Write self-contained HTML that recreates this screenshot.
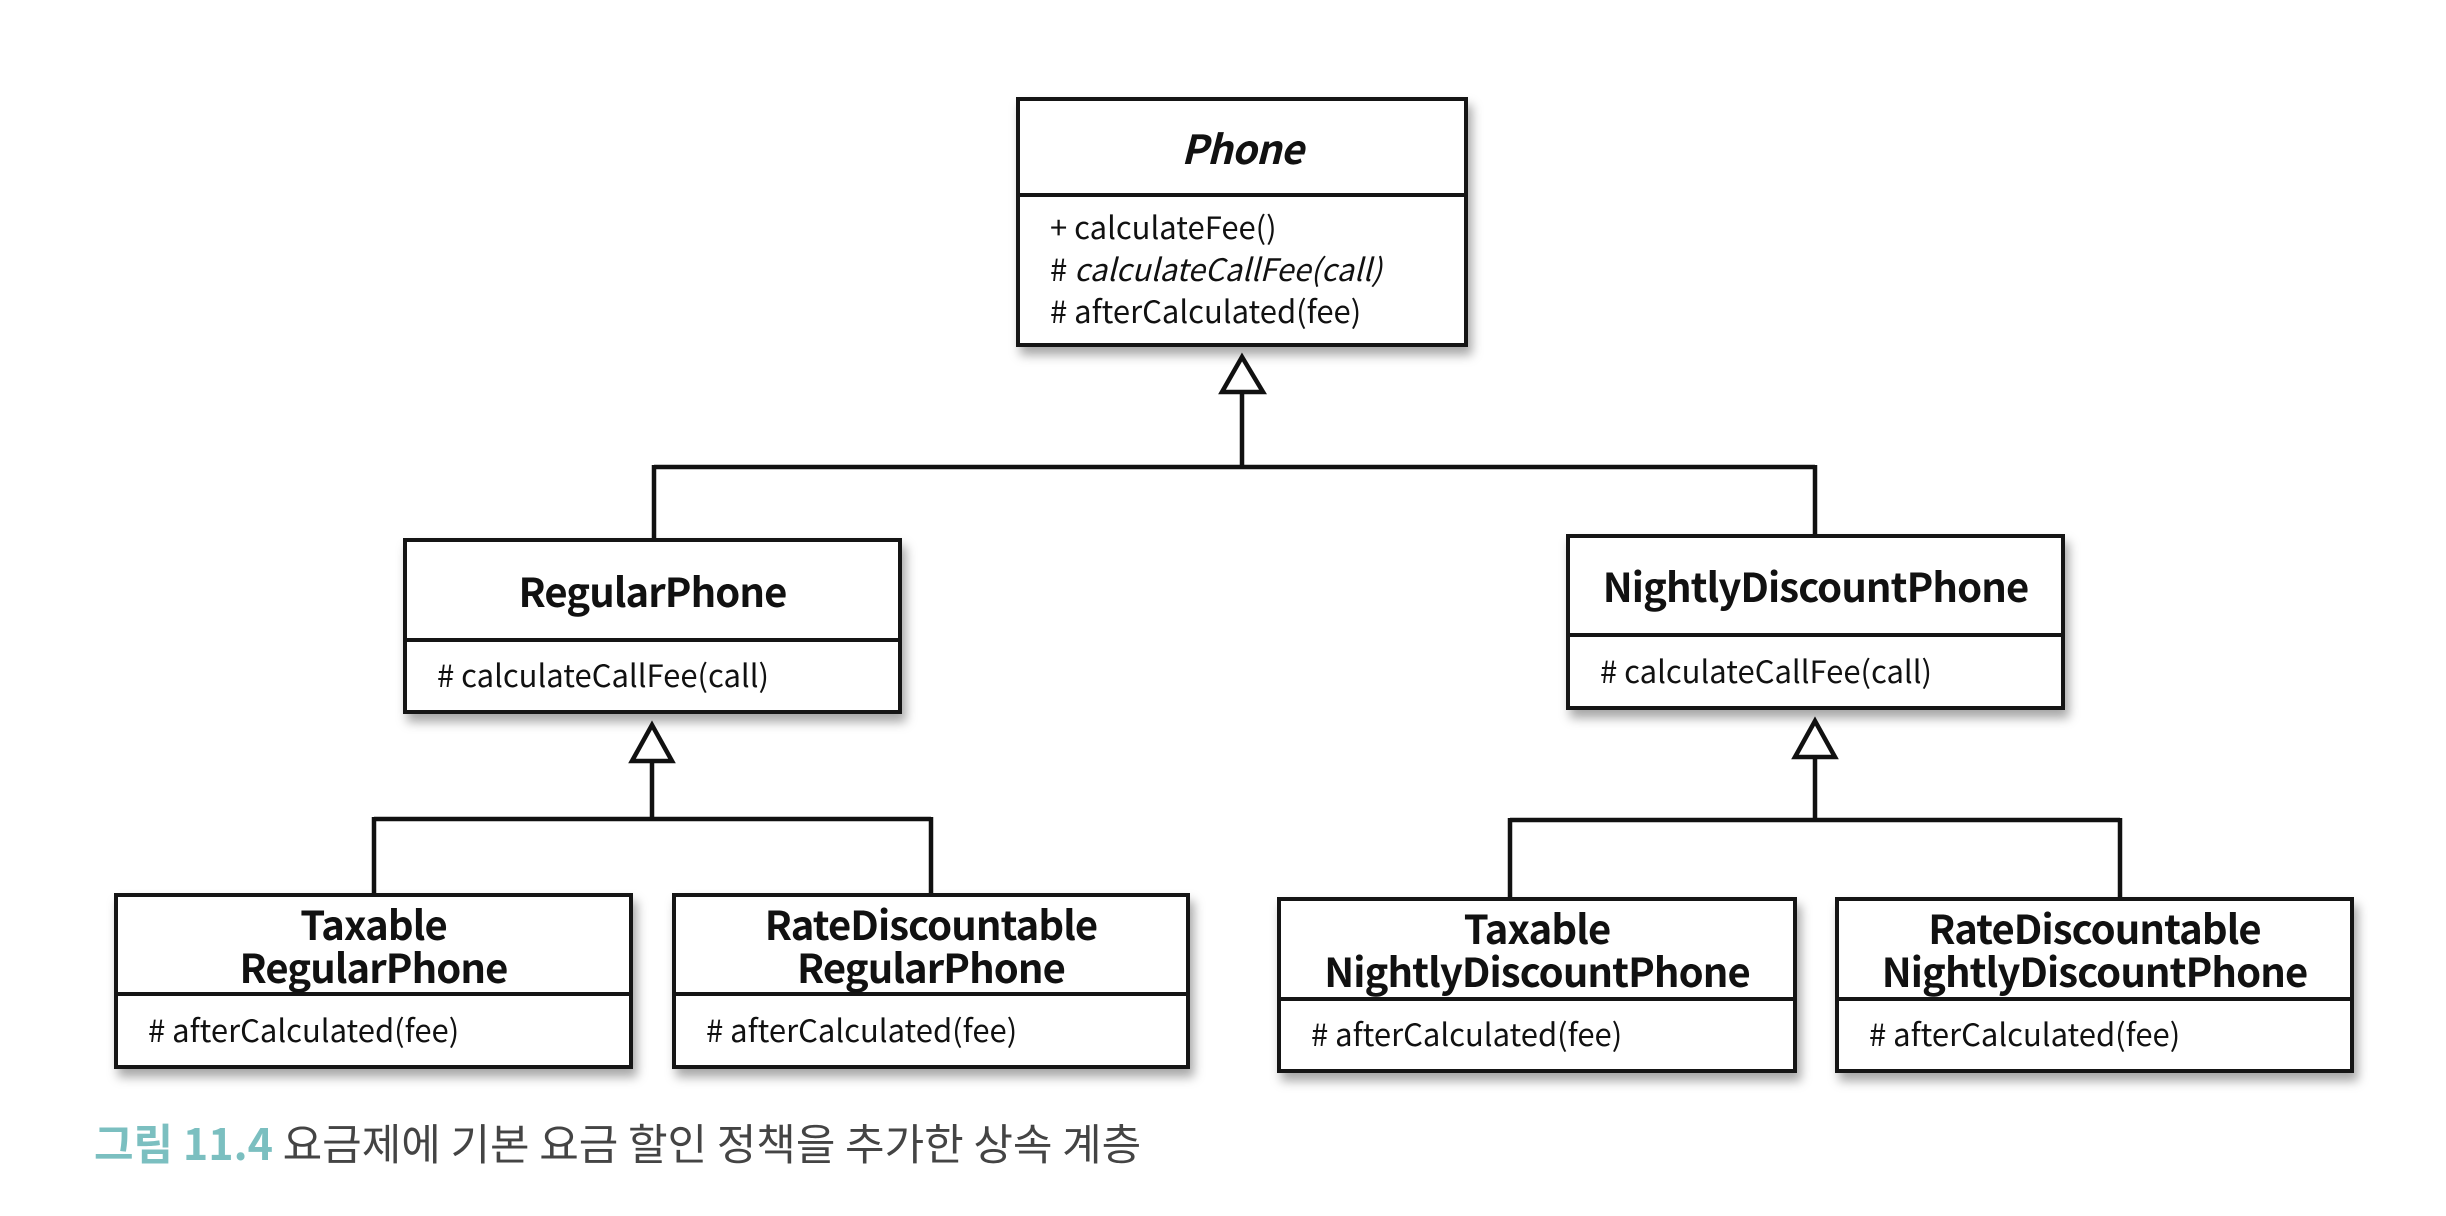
<!DOCTYPE html>
<html><head><meta charset="utf-8"><style>
html,body{margin:0;padding:0;background:#fff;}
body{width:2446px;height:1216px;position:relative;overflow:hidden;font-family:"Noto Sans CJK KR","Liberation Sans",sans-serif;color:#111;}
.box{position:absolute;border:4px solid #151515;background:#fff;box-sizing:border-box;box-shadow:4px 8px 10px rgba(0,0,0,0.35);}
.hd{position:absolute;left:0;right:0;top:0;display:flex;flex-direction:column;align-items:center;justify-content:center;font-weight:bold;font-size:40px;line-height:43px;border-bottom:4px solid #151515;box-sizing:border-box;letter-spacing:-0.9px;}
.bd{position:absolute;left:0;right:0;bottom:0;display:flex;flex-direction:column;justify-content:center;padding-left:30px;font-size:31px;line-height:42px;}
svg{position:absolute;left:0;top:0;}
.cap{position:absolute;left:94px;top:1116px;font-size:43px;line-height:52px;color:#444;white-space:nowrap;}
.cap b{color:#7bbfc0;font-weight:bold;}
</style></head><body>
<svg width="2446" height="1216">
<g stroke="#111" stroke-width="4.5" fill="none">
<path d="M1242 393 V467 M654 467 H1815 M654 465 V538 M1815 465 V535"/>
<path d="M652 763 V819 M374 819 H931 M374 817 V893 M931 817 V893"/>
<path d="M1815 758 V820 M1510 820 H2120 M1510 818 V897 M2120 818 V897"/>
<path d="M1242 357 L1222 392 L1263 392 Z" fill="#fff"/>
<path d="M652 725 L632 761 L672 761 Z" fill="#fff"/>
<path d="M1815 721 L1795 757 L1835 757 Z" fill="#fff"/>
</g>
</svg>

<div class="box" style="left:1016px;top:97px;width:452px;height:250px;">
<div class="hd" style="height:96px;font-style:italic;">Phone</div>
<div class="bd" style="top:92px;padding-left:30px;">
<div>+ calculateFee()</div><div># <i>calculateCallFee(call)</i></div><div># afterCalculated(fee)</div></div>
</div>

<div class="box" style="left:403px;top:538px;width:499px;height:176px;">
<div class="hd" style="height:100px;">RegularPhone</div>
<div class="bd" style="top:96px;"><div># calculateCallFee(call)</div></div>
</div>

<div class="box" style="left:1566px;top:534px;width:499px;height:176px;">
<div class="hd" style="height:99px;">NightlyDiscountPhone</div>
<div class="bd" style="top:95px;"><div># calculateCallFee(call)</div></div>
</div>

<div class="box" style="left:114px;top:893px;width:519px;height:176px;">
<div class="hd" style="height:99px;"><div>Taxable</div><div>RegularPhone</div></div>
<div class="bd" style="top:95px;"><div># afterCalculated(fee)</div></div>
</div>

<div class="box" style="left:672px;top:893px;width:518px;height:176px;">
<div class="hd" style="height:99px;"><div>RateDiscountable</div><div>RegularPhone</div></div>
<div class="bd" style="top:95px;"><div># afterCalculated(fee)</div></div>
</div>

<div class="box" style="left:1277px;top:897px;width:520px;height:176px;">
<div class="hd" style="height:100px;"><div>Taxable</div><div>NightlyDiscountPhone</div></div>
<div class="bd" style="top:96px;"><div># afterCalculated(fee)</div></div>
</div>

<div class="box" style="left:1835px;top:897px;width:519px;height:176px;">
<div class="hd" style="height:100px;"><div>RateDiscountable</div><div>NightlyDiscountPhone</div></div>
<div class="bd" style="top:96px;"><div># afterCalculated(fee)</div></div>
</div>

<div class="cap"><b>그림 11.4</b> 요금제에 기본 요금 할인 정책을 추가한 상속 계층</div>
</body></html>
